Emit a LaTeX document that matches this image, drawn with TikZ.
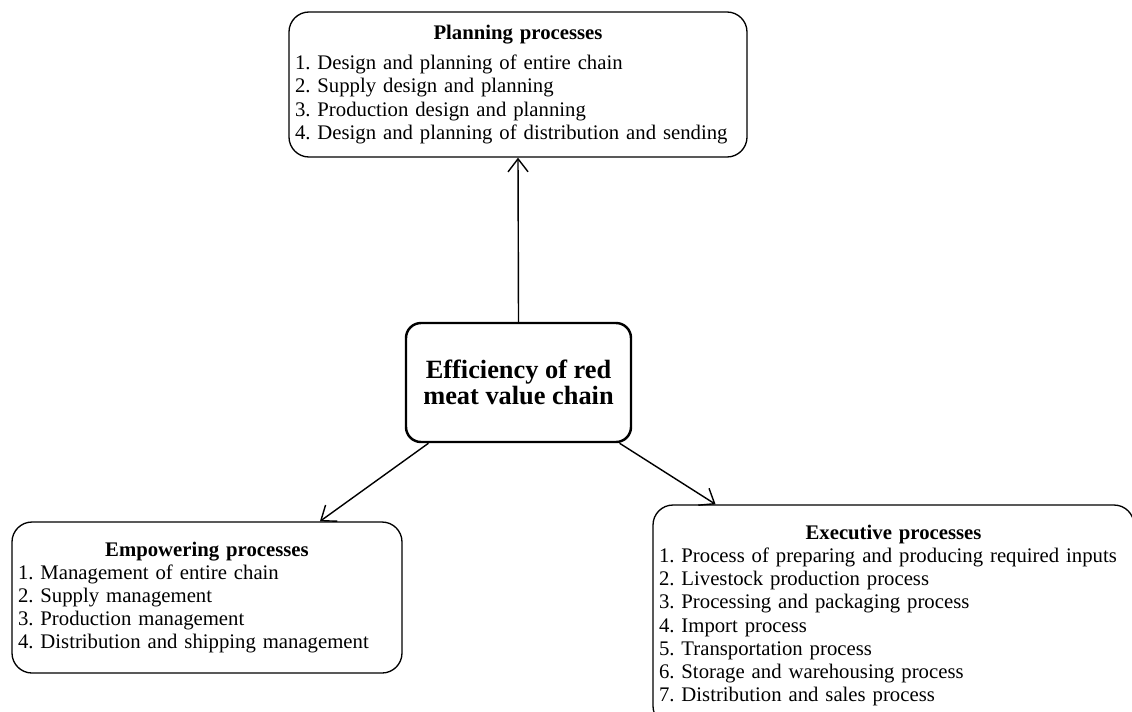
\documentclass[tikz,border=0pt]{standalone}
\usepackage{fontspec}
\setmainfont{Liberation Serif}
\usetikzlibrary{arrows.meta}
\frenchspacing
\tikzstyle{proc}=[draw=black,line width=0.75pt,rounded corners=0.4cm,inner xsep=0.12cm,inner ysep=0pt,align=left,font=\fontsize{11.8}{13.2}\selectfont]
\newcommand{\procbox}[6]{\node[proc,text width=#3,minimum height=#4] (#1) at (#2) {{\centering\bfseries #5\par}#6};}
\tikzset{
	flow/.style={-{Straight Barb[length=2.6mm,width=4mm]},line width=0.8pt},
}

\begin{document}
\begin{tikzpicture}[align=center]
    \useasboundingbox (0,0) rectangle (22.64,-14.22);

    \node[draw,line width=1.4pt,rounded corners=0.3cm,minimum width=4.5cm,minimum height=2.38cm,font=\fontsize{15}{14.5}\selectfont\bfseries] (effic) at (10.37,-7.65) {Efficiency of red\\meat value chain};

    \procbox{plan}{10.36,-1.69}{8.92cm}{2.9cm}{Planning processes}{\vspace{4pt}1. Design and planning of entire chain\\2. Supply design and planning\\3. Production design and planning\\4. Design and planning of distribution and sending}
    \procbox{empow}{4.14,-11.95}{7.56cm}{3.02cm}{Empowering processes}{1. Management of entire chain\\2. Supply management\\3. Production management\\4. Distribution and shipping management}
    \procbox{exec}{17.87,-12.31}{9.38cm}{4.42cm}{Executive processes}{1. Process of preparing and producing required inputs\\2. Livestock production process\\3. Processing and packaging process\\4. Import process\\5. Transportation process\\6. Storage and warehousing process\\7. Distribution and sales process}

    \draw[flow] (effic.north) -- (plan.south);
    \draw[flow] (effic.214) -- (empow.34);
    \draw[flow] (effic.-31) -- (exec.148);
\end{tikzpicture}
\end{document}
